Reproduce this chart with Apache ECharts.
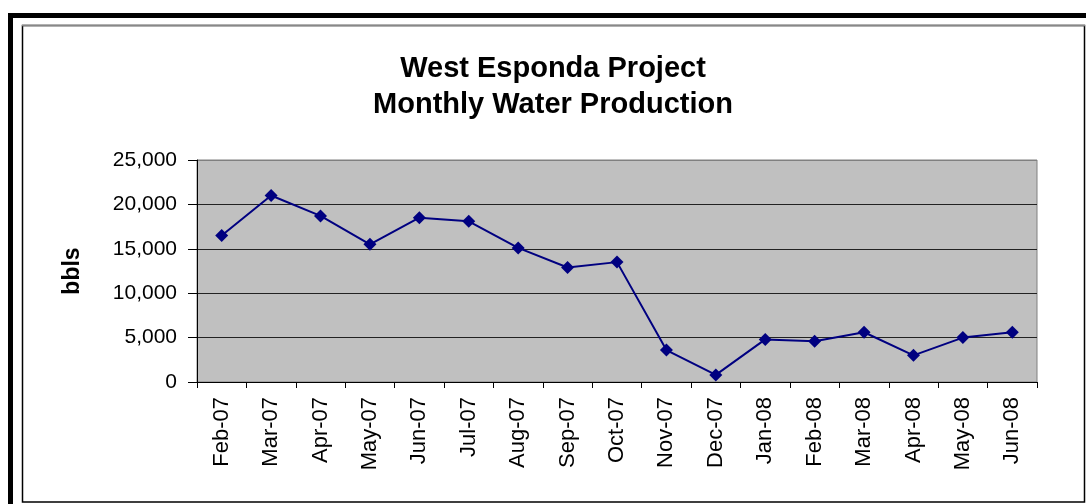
<!DOCTYPE html>
<html>
<head>
<meta charset="utf-8">
<title>West Esponda Project - Monthly Water Production</title>
<script src="https://cdn.jsdelivr.net/npm/echarts@6/dist/echarts.min.js"></script>
<style>
  html, body { margin: 0; padding: 0; background: #fff; }
  #chart { width: 1086px; height: 504px; }
</style>
</head>
<body>
<div id="chart"></div>
<script>
// months on the category axis
const months = ['Feb-07', 'Mar-07', 'Apr-07', 'May-07', 'Jun-07', 'Jul-07', 'Aug-07', 'Sep-07',
    'Oct-07', 'Nov-07', 'Dec-07', 'Jan-08', 'Feb-08', 'Mar-08', 'Apr-08', 'May-08', 'Jun-08'];
// monthly water production, bbls
const waterBbls = [16500, 21000, 18700, 15500, 18500, 18100, 15100, 12900,
    13500, 3600, 800, 4800, 4600, 5600, 3000, 5000, 5600];
// y axis ticks
const yTicks = [0, 5000, 10000, 15000, 20000, 25000];

const FONT = '"Liberation Sans", Arial, sans-serif';

const myChart = echarts.init(document.getElementById('chart'));

myChart.setOption({
    animation: false,
    backgroundColor: '#fff',
    //  标题
    title: {
        text: 'West Esponda Project\nMonthly Water Production',
        left: 553,
        top: 51,
        padding: 0,
        textAlign: 'center',
        textStyle: {
            color: '#000',
            fontFamily: FONT,
            fontSize: 29,
            fontWeight: 'bold',
            lineHeight: 36,
        },
    },
    //  外框
    graphic: [
        {type: 'rect', silent: true, shape: {x: 8, y: 13, width: 5, height: 600}, style: {fill: '#000'}},
        {type: 'rect', silent: true, shape: {x: 8, y: 13, width: 1200, height: 5}, style: {fill: '#000'}},
        {type: 'rect', silent: true, shape: {x: 22.5, y: 25.5, width: 1062, height: 476.5},
            style: {fill: 'none', stroke: '#000', lineWidth: 1.5}},
        {type: 'line', silent: true, shape: {x1: 22, y1: 25.5, x2: 1085, y2: 25.5},
            style: {stroke: '#888', lineWidth: 1.5}},
    ],
    grid: {
        left: 197,
        right: 49,
        top: 160,
        bottom: 122,
        show: true,
        backgroundColor: '#C0C0C0',
        borderColor: '#808080',
        borderWidth: 1,
    },
    xAxis: {
        type: 'category',
        data: months,
        boundaryGap: true,
        axisLine: {lineStyle: {color: '#000', width: 1}},
        axisTick: {show: true, length: 6, lineStyle: {color: '#000'}},
        axisLabel: {
            interval: 0,
            rotate: 90,
            margin: 15,
            color: '#000',
            fontFamily: FONT,
            fontSize: 22,
        },
        splitLine: {show: false},
    },
    yAxis: {
        type: 'value',
        min: yTicks[0],
        max: yTicks[yTicks.length - 1],
        interval: yTicks[1] - yTicks[0],
        name: 'bbls',
        nameLocation: 'middle',
        nameGap: 113,
        nameTextStyle: {
            color: '#000',
            fontFamily: FONT,
            fontSize: 23,
            fontWeight: 'bold',
        },
        axisLine: {show: true, lineStyle: {color: '#000', width: 1}},
        axisTick: {show: true, length: 9, lineStyle: {color: '#000'}},
        axisLabel: {
            margin: 20,
            color: '#000',
            fontFamily: FONT,
            fontSize: 21,
            formatter: function (value) {
                return value.toLocaleString('en-US');
            },
        },
        //  网格线，最上面那条是灰色的边框
        splitLine: {
            show: true,
            lineStyle: {color: ['#222', '#222', '#222', '#222', '#222', '#808080'], width: 1},
        },
    },
    series: [
        {
            type: 'line',
            data: waterBbls,
            symbol: 'diamond',
            symbolSize: 13,
            itemStyle: {color: '#000080'},
            lineStyle: {color: '#000080', width: 2},
        },
    ],
});
</script>
</body>
</html>
